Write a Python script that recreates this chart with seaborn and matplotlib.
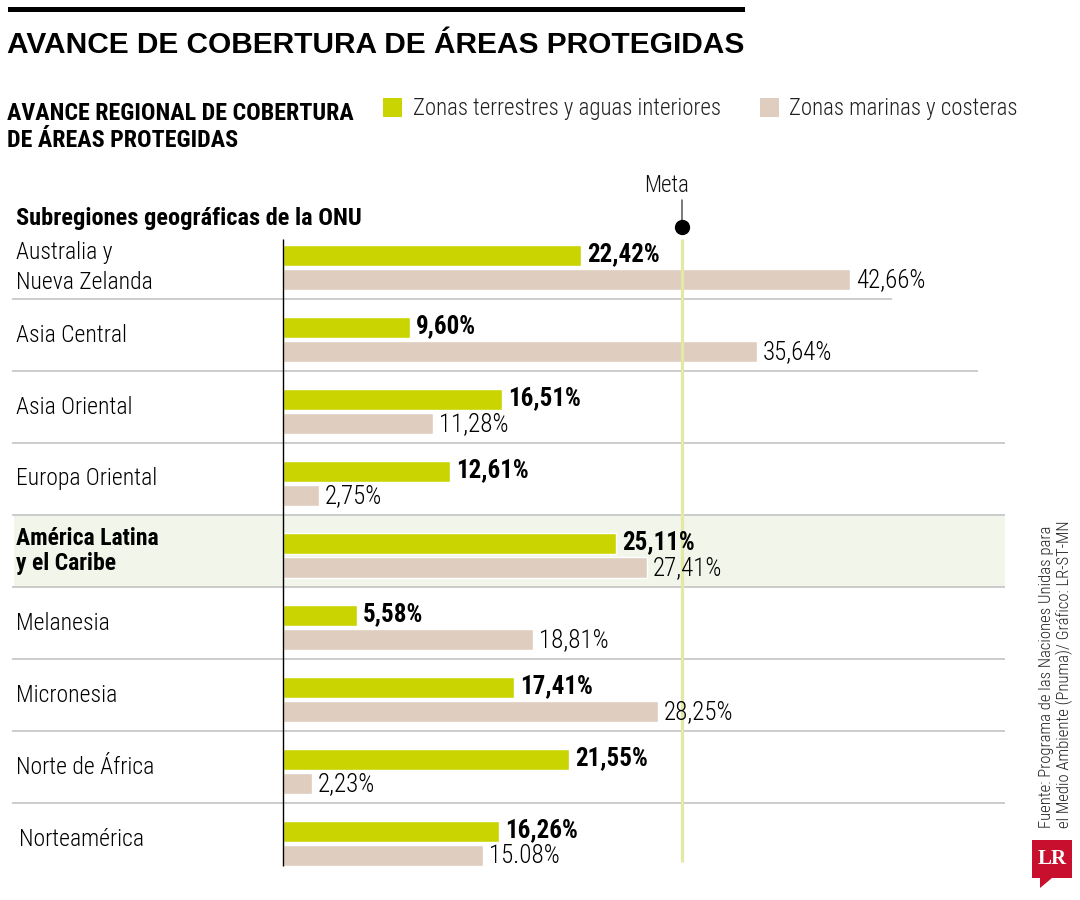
import matplotlib
matplotlib.use("Agg")
import matplotlib.pyplot as plt
from matplotlib import font_manager as fm
from matplotlib.patches import Rectangle, Polygon
import seaborn as sns
import pandas as pd

# ---------------- data ----------------
regions = ["Australia y\nNueva Zelanda", "Asia Central", "Asia Oriental", "Europa Oriental",
           "América Latina\ny el Caribe", "Melanesia", "Micronesia", "Norte de África", "Norteamérica"]
terrestres = [22.42, 9.60, 16.51, 12.61, 25.11, 5.58, 17.41, 21.55, 16.26]
marinas = [42.66, 35.64, 11.28, 2.75, 27.41, 18.81, 28.25, 2.23, 15.08]
terr_labels = ["22,42%", "9,60%", "16,51%", "12,61%", "25,11%", "5,58%", "17,41%", "21,55%", "16,26%"]
mar_labels = ["42,66%", "35,64%", "11,28%", "2,75%", "27,41%", "18,81%", "28,25%", "2,23%", "15.08%"]
series = ["Zonas terrestres y aguas interiores", "Zonas marinas y costeras"]
highlight = "América Latina\ny el Caribe"
meta = 30

title = "AVANCE DE COBERTURA DE ÁREAS PROTEGIDAS"
subtitle = "AVANCE REGIONAL DE COBERTURA\nDE ÁREAS PROTEGIDAS"
axis_title = "Subregiones geográficas de la ONU"
source = "Fuente: Programa de las Naciones Unidas para\nel Medio Ambiente (Pnuma)/ Gráfico: LR-ST-MN"

GREEN = "#c9d400"
BEIGE = "#dfcdc0"
META_C = "#e4e8a2"
BAND = "#f2f6ea"
SEP = "#c4c4c4"

# ---------------- fonts ----------------
names = {f.name for f in fm.fontManager.ttflist}
def pick(cands, default):
    for c in cands:
        if c in names:
            return c
    return default
LIGHT = pick(["Roboto Condensed Light", "Noto Sans Condensed Light", "Open Sans Condensed Light",
              "Roboto Condensed", "Liberation Sans Narrow", "Noto Sans Condensed"], "DejaVu Sans")
CONDB = pick(["Roboto Condensed", "Noto Sans Condensed", "Liberation Sans Narrow",
              "Open Sans Condensed"], "DejaVu Sans")
TITLEF = pick(["Liberation Sans", "Roboto"], "DejaVu Sans")

sns.set_theme(style="white")
plt.rcParams["font.family"] = [LIGHT, "DejaVu Sans"]

df = pd.DataFrame({
    "region": regions * 2,
    "zona": [series[0]] * len(regions) + [series[1]] * len(regions),
    "valor": terrestres + marinas,
})

W, H = 1080, 900
fig = plt.figure(figsize=(W / 100, H / 100), dpi=100)
fig.patch.set_facecolor("white")

def fx(px):
    return px / W

def fy(py):
    return 1 - py / H

AX_L, AX_R, AX_T, AX_B = 14, 1005, 227, 875
ZERO, S = 282.5, 13.30
ROW, Y0 = 72.0, -0.5625

ax = fig.add_axes([fx(AX_L), fy(AX_B), (AX_R - AX_L) / W, (AX_B - AX_T) / H])

def dx(px):
    return (px - ZERO) / S

def dy(py):
    return Y0 + (py - AX_T) / ROW

sns.barplot(data=df, y="region", x="valor", hue="zona", order=regions, hue_order=series,
            palette=[GREEN, BEIGE], orient="h", width=0.667, gap=0.125, saturation=1,
            errorbar=None, legend=False, ax=ax, zorder=2)

ax.set_xlim(dx(AX_L), dx(AX_R))
ax.set_ylim(len(regions) - 1 + 0.4375, -0.5625)
ax.set_xticks([])
ax.set_yticks([])
ax.set_xlabel("")
ax.set_ylabel("")
for sp in ax.spines.values():
    sp.set_visible(False)
ax.set_facecolor("none")

# highlight band
hi = regions.index(highlight)
ax.axhspan(hi - 0.5625, hi + 0.4375, color=BAND, zorder=0, lw=0)

# separators
sep_right = [892, 978] + [AX_R] * (len(regions) - 3)
for j in range(len(regions) - 1):
    ax.plot([dx(12), dx(sep_right[j])], [j + 0.4375, j + 0.4375], color=SEP, lw=1.2,
            zorder=1, clip_on=False, solid_capstyle="butt")

# zero axis line
ax.plot([0, 0], [dy(239), dy(866)], color="black", lw=1.0, zorder=3, solid_capstyle="butt")

# meta line + marker
ax.plot([meta, meta], [dy(239), dy(862)], color=META_C, lw=2.3, zorder=3, solid_capstyle="butt")
ax.plot([meta, meta], [dy(200), dy(227)], color="#555555", lw=1.1, zorder=3, clip_on=False)
ax.plot([meta], [dy(227)], marker="o", ms=10, color="black", zorder=4, clip_on=False)
ax.text(meta - 15 / S, dy(186), "Meta", ha="center", va="center", fontsize=16.5,
        fontweight="light", family=[LIGHT, "DejaVu Sans"], color="#111111", clip_on=False)

# value labels
for i in range(len(regions)):
    ax.text(terrestres[i] + 6 / S, i - 0.104 - 0.08, terr_labels[i], ha="left", va="center",
            fontsize=18, fontweight="bold", family=[CONDB, "DejaVu Sans"], color="black", zorder=5)
    ax.text(marinas[i] + 6 / S, i + 0.229 - 0.06, mar_labels[i], ha="left", va="center",
            fontsize=18, fontweight="light", family=[LIGHT, "DejaVu Sans"], color="black", zorder=5)

# region labels
for i, r in enumerate(regions):
    bold = r == highlight
    two = "\n" in r
    ax.text(dx(19 if r == "Norteamérica" else 16),
            i - 0.0625 + (0.06 if (two and not bold) else 0.0), r,
            ha="left", va="center", fontsize=17,
            fontweight="bold" if bold else "light",
            family=[CONDB if bold else LIGHT, "DejaVu Sans"], color="black",
            linespacing=1.08 if bold else 1.38, clip_on=False)

ax.text(dx(16), dy(218), axis_title, ha="left", va="center", fontsize=17.6, fontweight="semibold",
        family=[CONDB, "DejaVu Sans"], color="black", clip_on=False)

# ---------------- header ----------------
fig.patches.append(Rectangle((fx(8), fy(12)), (745 - 8) / W, 5 / H, transform=fig.transFigure,
                             facecolor="black", edgecolor="none"))
fig.text(fx(7), fy(45), title, ha="left", va="center", fontsize=21.5, fontweight="bold",
         family=[TITLEF, "DejaVu Sans"], color="black")
fig.text(fx(7), fy(127), subtitle, ha="left", va="center", fontsize=17.3, fontweight="bold",
         family=[CONDB, "DejaVu Sans"], color="black", linespacing=1.2)

# legend
for (x0, tx), col, lab in zip([(383, 413), (760, 789)], [GREEN, BEIGE], series):
    fig.patches.append(Rectangle((fx(x0), fy(117)), 19 / W, 19 / H, transform=fig.transFigure,
                                 facecolor=col, edgecolor="none"))
    fig.text(fx(tx), fy(108), lab, ha="left", va="center", fontsize=16.5, fontweight="light",
             family=[LIGHT, "DejaVu Sans"], color="#222222")

# source (rotated)
fig.text(fx(1056), fy(828), source, rotation=90, ha="center", va="bottom", fontsize=12,
         fontweight="light", family=[LIGHT, "DejaVu Sans"], color="#222222",
         multialignment="left", linespacing=1.15)

# LR logo
fig.patches.append(Rectangle((fx(1032), fy(878)), 40 / W, 38 / H, transform=fig.transFigure,
                             facecolor="#c8102e", edgecolor="none"))
fig.patches.append(Polygon([(fx(1040), fy(878)), (fx(1052), fy(878)), (fx(1040), fy(888))],
                           closed=True, transform=fig.transFigure, facecolor="#c8102e",
                           edgecolor="none"))
fig.text(fx(1052), fy(859), "LR", ha="center", va="center", fontsize=15, fontweight="bold",
         family=["Liberation Serif", "DejaVu Serif"], color="white")

fig.savefig("out.png", dpi=100, facecolor="white")
